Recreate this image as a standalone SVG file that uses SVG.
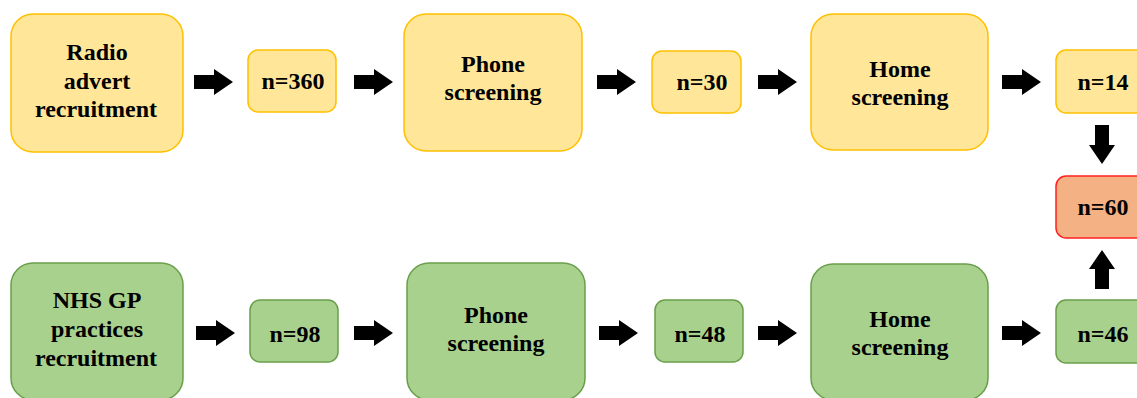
<svg xmlns="http://www.w3.org/2000/svg" width="1137" height="398" viewBox="0 0 1137 398">
  <style>
    .yel { fill: #FFE699; stroke: #FFC000; stroke-width: 1.5; }
    .grn { fill: #A9D18E; stroke: #6A9F4A; stroke-width: 1.5; }
    .red { fill: #F4B183; stroke: #FF2020; stroke-width: 1.5; }
    .lbl { font-family: "Liberation Serif", "Times New Roman", serif; font-weight: bold; font-size: 24px; fill: #000; text-anchor: middle; }
    .arr { fill: #000; }
  </style>
  <defs>
    <!-- block arrow pointing right, origin at tail centre -->
    <path id="blk" d="M0,-7 H20 V-13 L39,0 L20,13 V7 H0 Z"/>
  </defs>

  <rect width="1137" height="398" fill="#fff"/>

  <!-- top row: radio advert pathway -->
  <g id="radio">
    <rect class="yel" x="11" y="14" width="172" height="138" rx="22"/>
    <text class="lbl" x="97" y="60">Radio</text>
    <text class="lbl" x="97" y="89">advert</text>
    <text class="lbl" x="96" y="117">recruitment</text>
  </g>
  <g id="n360">
    <rect class="yel" x="248" y="50" width="88" height="62" rx="10"/>
    <text class="lbl" x="293" y="89">n=360</text>
  </g>
  <g id="phone1">
    <rect class="yel" x="404" y="14" width="178" height="137" rx="22"/>
    <text class="lbl" x="493" y="72">Phone</text>
    <text class="lbl" x="493" y="100">screening</text>
  </g>
  <g id="n30">
    <rect class="yel" x="652" y="51" width="89" height="62" rx="10"/>
    <text class="lbl" x="702" y="90">n=30</text>
  </g>
  <g id="home1">
    <rect class="yel" x="811" y="14" width="177" height="136" rx="22"/>
    <text class="lbl" x="900" y="77">Home</text>
    <text class="lbl" x="900" y="105">screening</text>
  </g>
  <g id="n14">
    <rect class="yel" x="1056" y="50" width="90" height="63" rx="10"/>
    <text class="lbl" x="1103" y="90">n=14</text>
  </g>

  <!-- combined total -->
  <g id="n60">
    <rect class="red" x="1056" y="176" width="90" height="62" rx="10"/>
    <text class="lbl" x="1103" y="215">n=60</text>
  </g>

  <!-- bottom row: GP practices pathway -->
  <g id="nhs">
    <rect class="grn" x="11" y="263" width="172" height="137" rx="22"/>
    <text class="lbl" x="97" y="308">NHS GP</text>
    <text class="lbl" x="97" y="337">practices</text>
    <text class="lbl" x="96" y="366">recruitment</text>
  </g>
  <g id="n98">
    <rect class="grn" x="250" y="300" width="88" height="62" rx="10"/>
    <text class="lbl" x="295" y="342">n=98</text>
  </g>
  <g id="phone2">
    <rect class="grn" x="407" y="263" width="178" height="137" rx="22"/>
    <text class="lbl" x="496" y="323">Phone</text>
    <text class="lbl" x="496" y="351">screening</text>
  </g>
  <g id="n48">
    <rect class="grn" x="655" y="300" width="88" height="62" rx="10"/>
    <text class="lbl" x="700" y="342">n=48</text>
  </g>
  <g id="home2">
    <rect class="grn" x="811" y="264" width="177" height="136" rx="22"/>
    <text class="lbl" x="900" y="327">Home</text>
    <text class="lbl" x="900" y="355">screening</text>
  </g>
  <g id="n46">
    <rect class="grn" x="1056" y="300" width="90" height="63" rx="10"/>
    <text class="lbl" x="1103" y="342">n=46</text>
  </g>

  <!-- connectors -->
  <g id="connectors" class="arr">
    <use href="#blk" transform="translate(194,82)"/>
    <use href="#blk" transform="translate(354,82)"/>
    <use href="#blk" transform="translate(597,82)"/>
    <use href="#blk" transform="translate(758,82)"/>
    <use href="#blk" transform="translate(1002,82)"/>
    <use href="#blk" transform="translate(1102,125) rotate(90)"/>
    <use href="#blk" transform="translate(1102,289) rotate(-90)"/>
    <use href="#blk" transform="translate(196,333)"/>
    <use href="#blk" transform="translate(354,333)"/>
    <use href="#blk" transform="translate(599,333)"/>
    <use href="#blk" transform="translate(758,333)"/>
    <use href="#blk" transform="translate(1002,333)"/>
  </g>
</svg>
